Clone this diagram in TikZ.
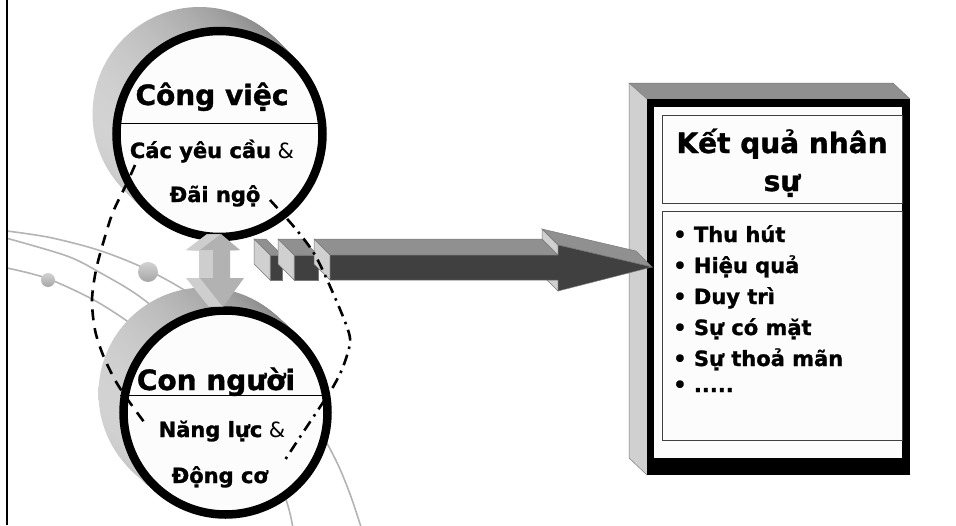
\documentclass[tikz,border=0pt]{standalone}
\usepackage{fontspec}
\setmainfont{DejaVu Sans}[BoldFeatures={FakeBold=1.2}]
\usetikzlibrary{calc}
\definecolor{frontdark}{HTML}{404040}
\definecolor{topmid}{HTML}{909090}
\definecolor{sidelight}{HTML}{D0D0D0}
\definecolor{edgegray}{HTML}{7A7A7A}
\definecolor{curvegray}{HTML}{B4B4B4}
\definecolor{paper}{HTML}{FCFCFC}
\definecolor{arrowfront}{HTML}{B2B2B2}
\definecolor{arrowside}{HTML}{CECECE}
\begin{document}
\begin{tikzpicture}[x=1pt,y=-1pt,
  curve/.style={draw=curvegray, line width=1.6pt},
  bigtext/.style={font=\bfseries\fontsize{28}{32}\selectfont, inner sep=0pt, anchor=base},
  midtext/.style={font=\fontsize{21}{24}\selectfont, inner sep=0pt, anchor=base},
  listtext/.style={font=\bfseries\fontsize{21}{24}\selectfont, inner sep=0pt, anchor=base west},
  facetop/.style={fill=topmid, draw=edgegray, line width=0.5pt},
  faceside/.style={fill=sidelight, draw=edgegray, line width=0.5pt},
  facefront/.style={fill=frontdark, draw=edgegray, line width=0.5pt},
  ringline/.style={line width=8.5pt},
  dashedarc/.style={line width=2.6pt, dash pattern=on 11pt off 8pt},
  dashdotarc/.style={line width=2.6pt, dash pattern=on 11pt off 6pt on 2.5pt off 6pt},
]
\useasboundingbox (0,0) rectangle (956,525);
\fill[white] (0,0) rectangle (956,525);

% background curves
\draw[curve] plot[smooth] coordinates {(7,231) (50,237.5) (100,250.6) (148,270) (200,300.4) (260,351) (305,406) (335,458.5) (350,494) (361,527)};
\draw[curve] plot[smooth] coordinates {(7,238.3) (67,256) (100,272.6) (143,299) (200,349) (250,416.7) (285,497) (293,529)};
\draw[curve] plot[smooth] coordinates {(7,268) (48,278.7) (100,303.5) (150,338.7) (200,390.8) (230,440)};
\shade[top color=gray!35, bottom color=gray!70] (148,272) circle[radius=10pt];
\shade[top color=gray!35, bottom color=gray!70] (48,280) circle[radius=7pt];

% top circle (Cong viec)
\coordinate (c1) at (219.5,134);
\foreach \i in {20,19,...,1}
  \shade[left color=gray!35, right color=gray!105] ($(c1)+(-\i,-\i)$) circle[radius=107pt];
\fill[paper] (c1) circle[radius=103pt];
\draw[line width=1pt] (113,123) -- (326,123);
\draw[ringline] (c1) circle[radius=103pt];

% bottom circle (Con nguoi)
\coordinate (c2) at (225.5,412.5);
\foreach \i in {20,19,...,1}
  \shade[left color=gray!35, right color=gray!105] ($(c2)+(-1.05*\i,-0.95*\i)$) circle[radius=106pt];
\fill[paper] (c2) circle[radius=102pt];
\draw[line width=1pt] (120,395) -- (330,395);
\draw[ringline] (c2) circle[radius=102pt];

% small double arrow
\foreach \i in {14,13,...,1}
  \fill[arrowside, shift={(-\i,0)}] (221,234) -- (240,250) -- (230,250) -- (230,278) -- (244,278) -- (223,307) -- (200,278) -- (213,278) -- (213,250) -- (200,250) -- cycle;
\fill[arrowfront] (221,234) -- (240,250) -- (230,250) -- (230,278) -- (244,278) -- (223,307) -- (200,278) -- (213,278) -- (213,250) -- (200,250) -- cycle;

% right box
\fill[topmid] (629,83) -- (893,83) -- (910,99) -- (647,99) -- cycle;
\fill[sidelight] (629,83) -- (647,99) -- (647,475) -- (629,458) -- cycle;
\draw[edgegray, line width=0.5pt] (647,99) -- (629,83) -- (893,83) -- (910,99);
\draw[edgegray, line width=0.5pt] (629,83) -- (629,458) -- (647,475);
\fill[black] (647,99) rectangle (910,475);
\fill[paper] (654,107) rectangle (902,458);
\draw[line width=1pt, black!75] (662,115) rectangle (902,203);
\draw[line width=1pt, black!75] (662,211) rectangle (902,440);
\node[bigtext] (kq1) at (782,153) {Kết quả nhân};
\node[bigtext] (kq2) at (782,191) {sự};
\node[listtext] (l1) at (673,242) {• Thu hút};
\node[listtext] (l2) at (673,273) {• Hiệu quả};
\node[listtext] (l3) at (673,304) {• Duy trì};
\node[listtext] (l4) at (673,335) {• Sự có mặt};
\node[listtext] (l5) at (673,366) {• Sự thoả mãn};
\node[listtext] (l6) at (673,392) {• .....};

% big 3D arrow
\fill[facetop] (270,255) -- (282,255) -- (266,239) -- (254,239) -- cycle;
\fill[faceside] (270,255) -- (270,280) -- (254,264) -- (254,239) -- cycle;
\fill[facefront] (270,255) rectangle (282,280);
\fill[facetop] (294,255) -- (318,255) -- (302,239) -- (278,239) -- cycle;
\fill[faceside] (294,255) -- (294,280) -- (278,264) -- (278,239) -- cycle;
\fill[facefront] (294,255) rectangle (318,280);
\fill[facetop] (330,255) -- (558,255) -- (542,239) -- (314,239) -- cycle;
\fill[faceside] (330,255) -- (330,280) -- (314,264) -- (314,239) -- cycle;
\fill[faceside] (558,245) -- (558,255) -- (542,239) -- (542,229) -- cycle;
\fill[faceside] (558,280) -- (558,291) -- (542,275) -- (542,264) -- cycle;
\fill[facetop] (558,245) -- (652,267) -- (636,251) -- (542,229) -- cycle;
\fill[facefront] (330,255) -- (558,255) -- (558,245) -- (652,267) -- (558,291) -- (558,280) -- (330,280) -- cycle;

% dashed lens curves
\draw[dashedarc] plot[smooth] coordinates {(135,165) (127,183) (113,212) (104,240) (96,270) (92,300) (95,330) (103,355) (115,380) (128,400) (147,426)};
\draw[dashdotarc] plot[smooth] coordinates {(270,200) (295,228) (315,255) (333,293) (347,327) (350,343) (343,367) (333,387) (320,407) (300,437) (283,463)};

% circle texts
\node[bigtext] (cv) at (212,105) {Công việc};
\node[midtext] (yc) at (212,158) {\textbf{Các yêu cầu} \&};
\node[midtext] (dn) at (215,202) {\textbf{Đãi ngộ}};
\node[bigtext] (cn) at (216,390) {Con người};
\node[midtext] (nl) at (222,437) {\textbf{Năng lực} \&};
\node[midtext] (dc) at (220,483) {\textbf{Động cơ}};

% left border
\draw[line width=2.5pt] (7,0) -- (7,525);
\end{tikzpicture}
\end{document}
